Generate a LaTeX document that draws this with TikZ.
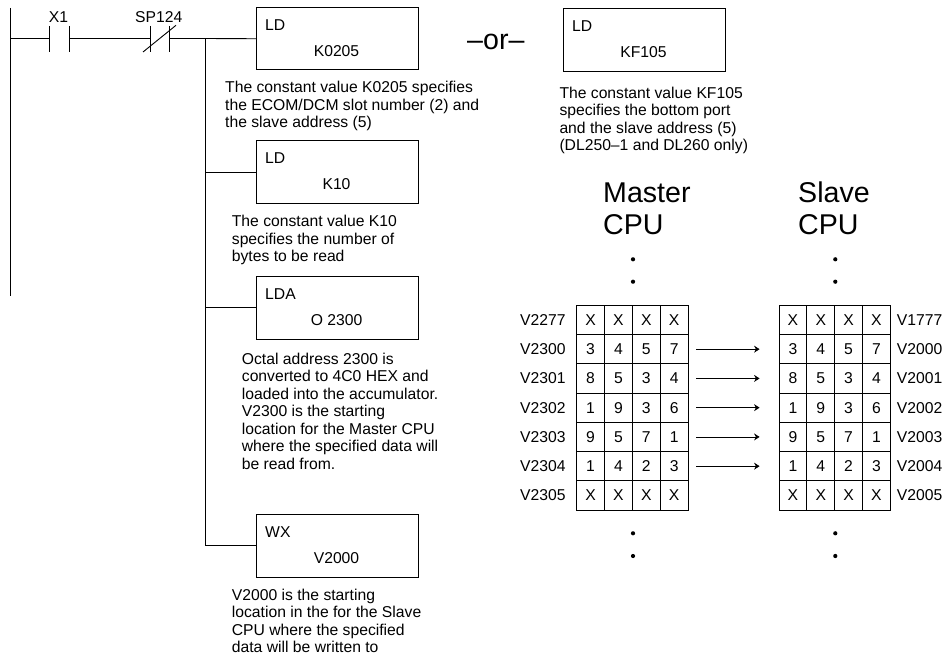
\documentclass[tikz,border=0pt]{standalone}
\usepackage{fontspec}
\setmainfont{Liberation Sans}
\usetikzlibrary{arrows.meta}
\tikzset{
  wire/.style={line width=0.9pt},
  instbox/.style={draw,line width=1pt,minimum width=162pt,minimum height=62.5pt,inner sep=0pt},
  txt/.style={font=\fontsize{15.7}{17.5}\selectfont,inner sep=0pt,anchor=base west},
  note/.style={txt,align=left},
  operand/.style={txt,anchor=base},
  cell/.style={draw,line width=0.8pt,minimum width=27.85pt,minimum height=29.25pt,inner sep=0pt,font=\fontsize{15.7}{18}\selectfont},
  cputitle/.style={font=\fontsize{28.6}{32}\selectfont,inner sep=0pt,anchor=base west,align=left},
  dotmark/.style={circle,fill=black,inner sep=0pt,minimum size=4.2pt},
  copyarrow/.style={-{Stealth[length=5.5pt,width=7pt]},line width=0.8pt,shorten <=8pt,shorten >=19pt},
}
\begin{document}
\begin{tikzpicture}[x=1pt,y=-1pt]
  \useasboundingbox (0,0) rectangle (943,655);
  % ladder rung
  \coordinate (railtop) at (10.5,8);
  \coordinate (railend) at (10.5,296);
  \coordinate (railrung) at (10.5,38.5);
  \coordinate (xa) at (49.5,38.5);
  \coordinate (xb) at (69.5,38.5);
  \coordinate (spa) at (150,38.5);
  \coordinate (spb) at (169,38.5);
  \coordinate (bustop) at (205.5,38.5);
  \coordinate (slasha) at (143,52);
  \coordinate (slashb) at (176,25.3);
  \draw[wire] (railtop) -- (railend);
  \draw[wire] (railrung) -- (xa);
  \draw[wire] (xb) -- (spa);
  \draw[wire] (spb) -- (bustop);
  \draw[wire] (49.5,26) -- (49.5,52);
  \draw[wire] (69.5,26) -- (69.5,52);
  \draw[wire] (150,26) -- (150,52);
  \draw[wire] (169,26) -- (169,52);
  \draw[wire] (slasha) -- (slashb);
  \node[operand] (xone) at (58.5,22.7) {X1};
  \node[operand] (spcontact) at (158.7,22.7) {SP124};
  % boxes
  \node[instbox] (ldslot) at (337.5,38.75) {};
  \node[instbox] (ldbytes) at (337.5,172) {};
  \node[instbox] (ldaddr) at (337.5,307.75) {};
  \node[instbox] (wxaddr) at (337.5,545.9) {};
  \node[instbox] (ldport) at (644.5,40.25) {};
  \draw[wire] (bustop) -- (ldslot.west);
  \draw[wire] (bustop) |- (ldbytes.west);
  \draw[wire] (bustop) |- (ldaddr.west);
  \draw[wire] (bustop) |- (wxaddr.west);
  \node[txt] (ldslotop) at (265,31) {LD};
  \node[operand] (ldslotval) at (336.5,56.7) {K0205};
  \node[txt] (ldbytesop) at (265,164) {LD};
  \node[operand] (ldbytesval) at (336.5,190) {K10};
  \node[txt] (ldaddrop) at (265,300) {LDA};
  \node[operand] (ldaddrval) at (336.5,325.5) {O 2300};
  \node[txt] (wxaddrop) at (265,537.5) {WX};
  \node[operand] (wxaddrval) at (336.5,563.5) {V2000};
  \node[txt] (ldportop) at (572,32) {LD};
  \node[operand] (ldportval) at (643.5,57.7) {KF105};
  \node[txt,font=\fontsize{28.6}{32}\selectfont] (ortext) at (467,50) {–or–};
  % captions, placed by their last line
  \node[note] (noteslot) at (225,128) {The constant value K0205 specifies\\the ECOM/DCM slot number (2) and\\the slave address (5)};
  \node[note] (notebytes) at (231.7,261.7) {The constant value K10\\specifies the number of\\bytes to be read};
  \node[note] (noteaddr) at (241.7,469.3) {Octal address 2300 is\\converted to 4C0 HEX and\\loaded into the accumulator.\\V2300 is the starting\\location for the Master CPU\\where the specified data will\\be read from.};
  \node[note] (notewx) at (231.7,652.5) {V2000 is the starting\\location in the for the Slave\\CPU where the specified\\data will be written to};
  \node[note] (noteport) at (559.3,150.8) {The constant value KF105\\specifies the bottom port\\and the slave address (5)\\(DL250–1 and DL260 only)};
  % data tables
  \node[cputitle] (mastertitle) at (603,235) {Master\\CPU};
  \node[cputitle] (slavetitle) at (798,235) {Slave\\CPU};
  \foreach \mlabel/\slabel/\da/\db/\dc/\dd [count=\r] in {
    V2277/V1777/X/X/X/X,
    V2300/V2000/3/4/5/7,
    V2301/V2001/8/5/3/4,
    V2302/V2002/1/9/3/6,
    V2303/V2003/9/5/7/1,
    V2304/V2004/1/4/2/3,
    V2305/V2005/X/X/X/X} {
    \pgfmathsetmacro\rowy{305.3+29.25*(\r-0.5)}
    \foreach \dgt [count=\c] in {\da,\db,\dc,\dd} {
      \node[cell] (m\r\c) at ({590.6+27.85*(\c-1)},\rowy) {\dgt};
      \node[cell] (s\r\c) at ({792.9+27.85*(\c-1)},\rowy) {\dgt};
    }
    \node[txt] (ml\r) at (520,\rowy+5.5) {\mlabel};
    \node[txt] (sl\r) at (896.7,\rowy+5.5) {\slabel};
  }
  \foreach \r in {2,...,6}
    \draw[copyarrow] (m\r4) -- (s\r1);
  \foreach \dotx/\dotname in {633/mast,835.3/slav} {
    \node[dotmark] (\dotname a) at (\dotx,259.3) {};
    \node[dotmark] (\dotname b) at (\dotx,281.7) {};
    \node[dotmark] (\dotname c) at (\dotx,533.3) {};
    \node[dotmark] (\dotname d) at (\dotx,556) {};
  }
\end{tikzpicture}
\end{document}
